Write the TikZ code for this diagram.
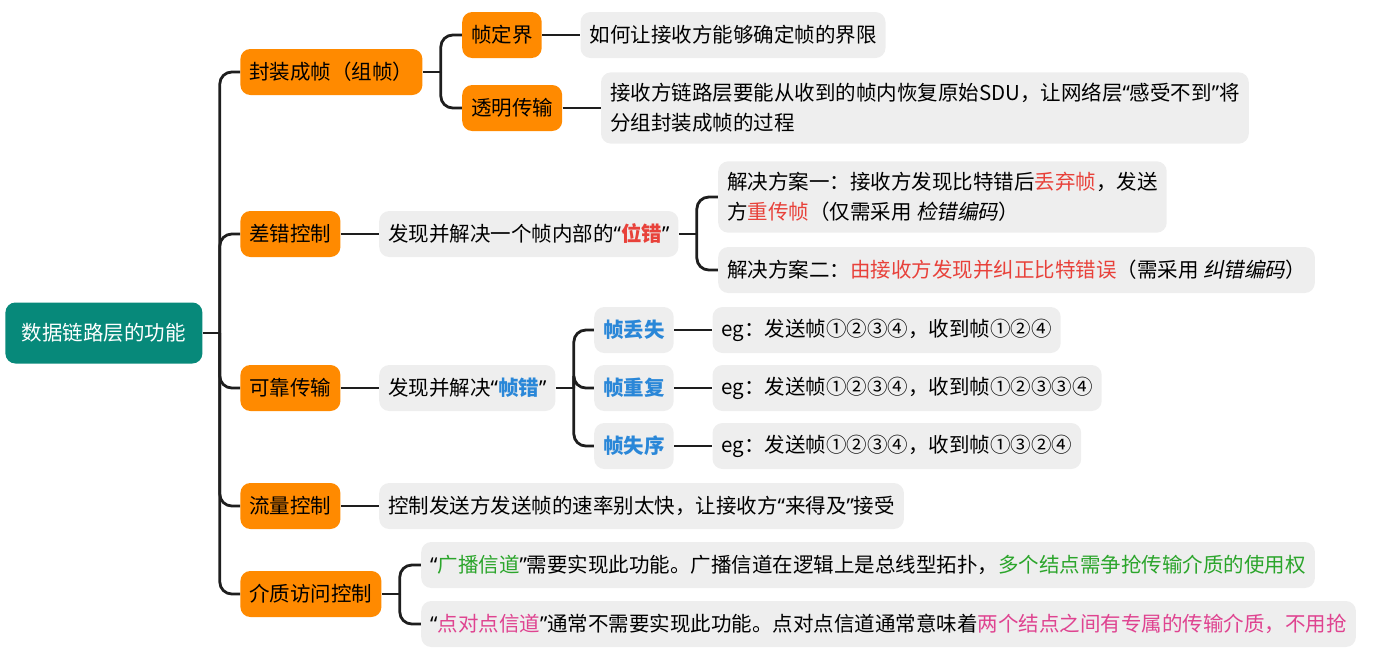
\documentclass[tikz,border=0pt]{standalone}
\usepackage{fontspec}
\setmainfont{Noto Sans CJK SC}
\newfontfamily\quotefont{Noto Sans}
\newfontfamily\slantfont[FakeSlant=0.2]{Noto Sans CJK SC}
\usepackage{tikz}
\usetikzlibrary{positioning,calc}
\definecolor{mmteal}{HTML}{07897A}
\definecolor{mmorange}{HTML}{FF8A00}
\definecolor{mmgrey}{HTML}{EEEEEE}
\definecolor{mmline}{HTML}{1E1E1E}
\definecolor{mmred}{HTML}{E8413A}
\definecolor{mmblue}{HTML}{2A87D8}
\definecolor{mmgreen}{HTML}{2BA52B}
\definecolor{mmpink}{HTML}{DF4390}
\newcommand{\mmfont}{\fontsize{10.25pt}{15pt}\selectfont}
\newcommand{\qo}{{\quotefont “}}
\newcommand{\qc}{{\quotefont ”}}
\newcommand{\txtred}[1]{\textcolor{mmred}{#1}}
\newcommand{\txtblue}[1]{\textcolor{mmblue}{#1}}
\newcommand{\txtgreen}[1]{\textcolor{mmgreen}{#1}}
\newcommand{\txtpink}[1]{\textcolor{mmpink}{#1}}
\tikzset{
  hub/.style={fill=mmteal,rounded corners=5pt,text=white,minimum width=98.5pt,
    minimum height=30.5pt,font=\mmfont,inner sep=0pt},
  branch/.style={fill=mmorange,rounded corners=5pt,minimum height=23pt,
    inner xsep=4.5pt,inner ysep=5.5pt,font=\mmfont,anchor=west},
  detail/.style={branch,fill=mmgrey,align=left},
  errkind/.style={detail,text=mmblue,font=\mmfont\bfseries},
  link/.style={draw=mmline,line width=1.4pt,rounded corners=6pt}
}
\begin{document}
\begin{tikzpicture}[x=0.5pt,y=-0.5pt]
\useasboundingbox (0,0) rectangle (1383,655);
\node[hub,anchor=west] (dl) at (5,333) {数据链路层的功能};
\node[branch] (fz) at (240,72) {封装成帧（组帧）};
\node[branch] (cc) at (240,234) {差错控制};
\node[branch] (kk) at (240,388) {可靠传输};
\node[branch] (ll) at (240,506) {流量控制};
\node[branch] (jz) at (240,594) {介质访问控制};
% 封装成帧
\node[branch] (dj) at ($(fz.east)+(39,-37)$) {帧定界};
\node[branch] (tm) at ($(fz.east)+(39,36)$) {透明传输};
\node[detail,right=19pt of dj] (djt) {如何让接收方能够确定帧的界限};
\node[detail,right=19pt of tm] (tmt) {接收方链路层要能从收到的帧内恢复原始SDU，让网络层\qo 感受不到\qc 将\\分组封装成帧的过程};
% 差错控制
\node[detail,right=19pt of cc] (wc) {发现并解决一个帧内部的\qo{\bfseries\txtred{位错}}\qc};
\node[detail] (fa1) at ($(wc.east)+(39,-37)$) {解决方案一：接收方发现比特错后\txtred{丢弃帧}，发送\\方\txtred{重传帧}（仅需采用 {\slantfont 检错编码}）};
\node[detail] (fa2) at ($(wc.east)+(39,36)$) {解决方案二：\txtred{由接收方发现并纠正比特错误}（需采用 {\slantfont 纠错编码}）};
% 可靠传输
\node[detail,right=19pt of kk] (zc) {发现并解决\qo{\bfseries\txtblue{帧错}}\qc};
\node[errkind] (ds) at ($(zc.east)+(38,-58)$) {帧丢失};
\node[errkind] (cf) at ($(zc.east)+(38,0)$) {帧重复};
\node[errkind] (sx) at ($(zc.east)+(38,58)$) {帧失序};
\node[detail,right=19pt of ds] (dse) {eg：发送帧①②③④，收到帧①②④};
\node[detail,right=19pt of cf] (cfe) {eg：发送帧①②③④，收到帧①②③③④};
\node[detail,right=19pt of sx] (sxe) {eg：发送帧①②③④，收到帧①③②④};
% 流量控制
\node[detail,right=19pt of ll] (llt) {控制发送方发送帧的速率别太快，让接收方\qo 来得及\qc 接受};
% 介质访问控制
\node[detail] (gb) at ($(jz.east)+(39,-29)$) {\qo\txtgreen{广播信道}\qc 需要实现此功能。广播信道在逻辑上是总线型拓扑，\txtgreen{多个结点需争抢传输介质的使用权}};
\node[detail] (dd) at ($(jz.east)+(39,30)$) {\qo\txtpink{点对点信道}\qc 通常不需要实现此功能。点对点信道通常意味着\txtpink{两个结点之间有专属的传输介质，不用抢}};
% connectors
\draw[link] (dl.east) -- ++(17,0) coordinate (trunk);
\foreach \b in {fz,cc,kk,ll,jz} \draw[link] (trunk) |- (\b.west);
\draw[link] (fz.east) -- ++(18,0) coordinate (fzfork);
\foreach \b in {dj,tm} \draw[link] (fzfork) |- (\b.west);
\draw[link] (dj.east) -- (djt.west);
\draw[link] (tm.east) -- (tmt.west);
\draw[link] (cc.east) -- (wc.west);
\draw[link] (wc.east) -- ++(18,0) coordinate (wcfork);
\foreach \b in {fa1,fa2} \draw[link] (wcfork) |- (\b.west);
\draw[link] (kk.east) -- (zc.west);
\draw[link] (zc.east) -- ++(18,0) coordinate (zcfork);
\foreach \b in {ds,cf,sx} \draw[link] (zcfork) |- (\b.west);
\draw[link] (ds.east) -- (dse.west);
\draw[link] (cf.east) -- (cfe.west);
\draw[link] (sx.east) -- (sxe.west);
\draw[link] (ll.east) -- (llt.west);
\draw[link] (jz.east) -- ++(18,0) coordinate (jzfork);
\foreach \b in {gb,dd} \draw[link] (jzfork) |- (\b.west);
\end{tikzpicture}
\end{document}
